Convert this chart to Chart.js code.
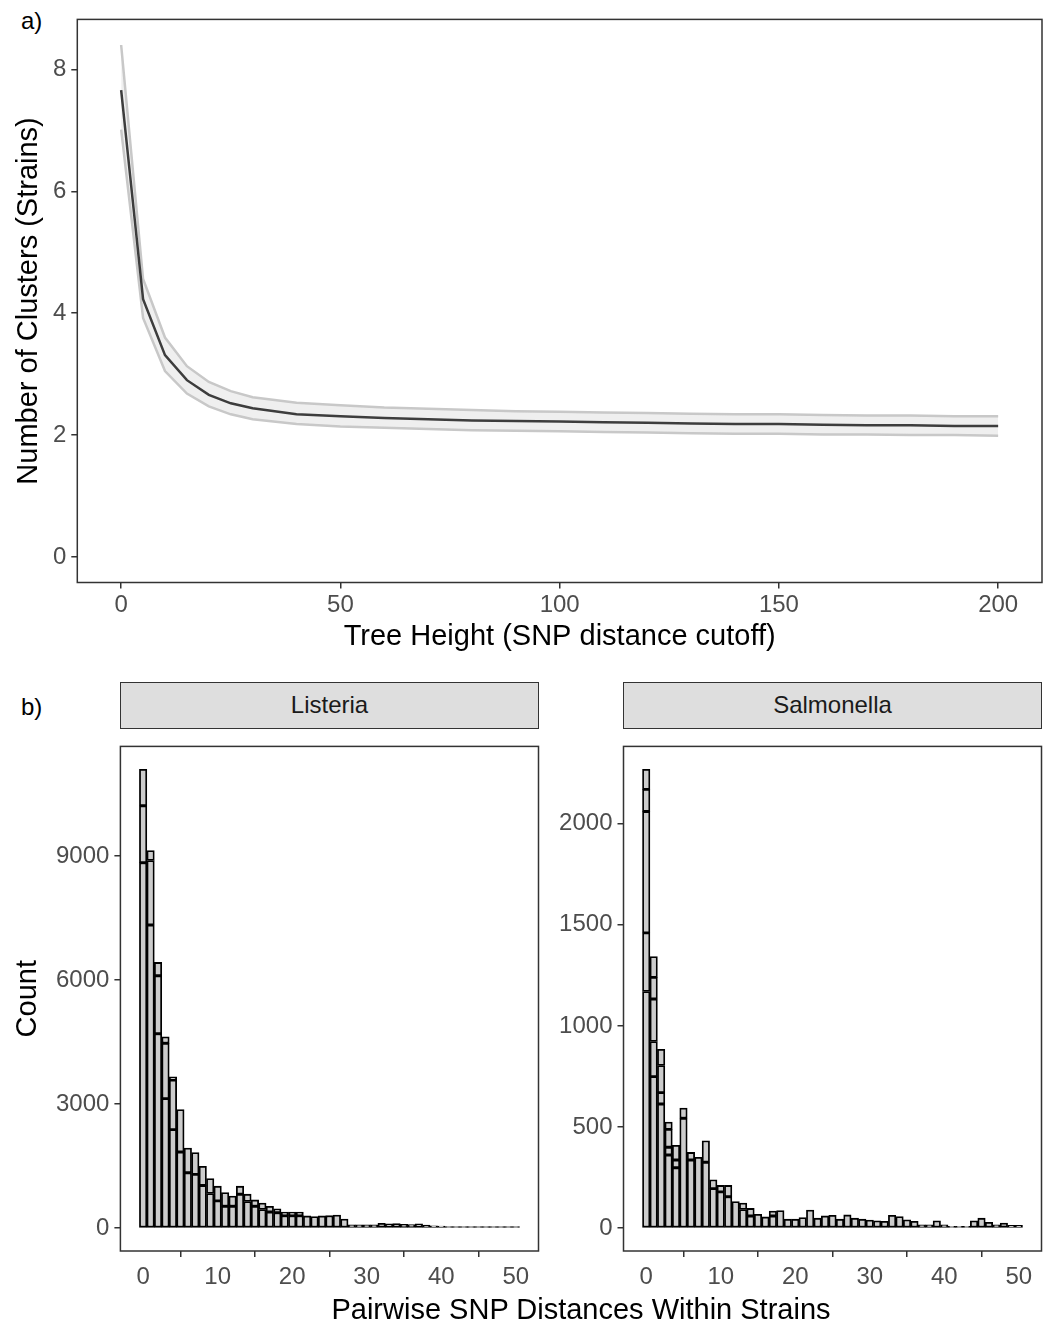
<!DOCTYPE html>
<html>
<head>
<meta charset="utf-8">
<script src="https://cdn.jsdelivr.net/npm/chart.js@4.4.1/dist/chart.umd.min.js"></script>
<style>
  body { margin: 0; background: #fff; width: 1049px; height: 1323px; position: relative; overflow: hidden;
         font-family: "Liberation Sans", Arial, sans-serif; }
  .box { position: absolute; }
  .strip { position: absolute; background: #dedede; border: 1.5px solid #333; box-sizing: border-box;
           text-align: center; font-size: 24px; color: #1a1a1a; line-height: 43px; }
  .tag { position: absolute; font-size: 24px; line-height: 24px; color: #000; }
  .xtitle { position: absolute; font-size: 29px; line-height: 34px; text-align: center; color: #000; }
</style>
</head>
<body>
<div class="tag" style="left:21px;top:9px">a)</div>
<div class="tag" style="left:21px;top:695px">b)</div>

<div class="box" style="left:0;top:0;width:1049px;height:660px"><canvas id="treeChart"></canvas></div>

<div class="strip" style="left:120px;top:682px;width:419px;height:47px">Listeria</div>
<div class="strip" style="left:623px;top:682px;width:419px;height:47px">Salmonella</div>

<div class="box" style="left:0;top:727px;width:540px;height:573px"><canvas id="listeriaChart"></canvas></div>
<div class="box" style="left:540px;top:727px;width:509px;height:573px"><canvas id="salmonellaChart"></canvas></div>

<div class="xtitle" style="left:281px;top:1292px;width:600px">Pairwise SNP Distances Within Strains</div>

<script>
// a) clusters vs tree height
const treeHeights   = [0, 5, 10, 15, 20, 25, 30, 40, 50, 60, 70, 80, 90, 100, 110, 120, 130, 140, 150, 160, 170, 180, 190, 200];
const meanClusters  = [7.66, 4.23, 3.31, 2.90, 2.66, 2.52, 2.44, 2.34, 2.31, 2.28, 2.26, 2.24, 2.23, 2.22, 2.21, 2.20, 2.19, 2.18, 2.18, 2.17, 2.16, 2.16, 2.15, 2.15];
const upperClusters = [8.40, 4.56, 3.60, 3.13, 2.87, 2.72, 2.62, 2.53, 2.49, 2.45, 2.43, 2.41, 2.39, 2.38, 2.37, 2.36, 2.35, 2.34, 2.34, 2.33, 2.32, 2.32, 2.31, 2.31];
const lowerClusters = [7.01, 3.92, 3.05, 2.68, 2.47, 2.34, 2.26, 2.18, 2.14, 2.12, 2.10, 2.08, 2.07, 2.06, 2.05, 2.04, 2.03, 2.02, 2.02, 2.01, 2.01, 2.00, 2.00, 1.99];
const treeXTicks = [0, 50, 100, 150, 200];
const treeYTicks = [0, 2, 4, 6, 8];

// b) histograms, stacked segments per bin
const distances = [0, 1, 2, 3, 4, 5, 6, 7, 8, 9, 10, 11, 12, 13, 14, 15, 16, 17, 18, 19, 20, 21, 22, 23, 24, 25,
                   26, 27, 28, 29, 30, 31, 32, 33, 34, 35, 36, 37, 38, 39, 40, 41, 42, 43, 44, 45, 46, 47, 48, 49, 50];
const listeriaLower  = [8838, 7330, 4701, 3131, 2381, 1840, 1338, 1299, 1028, 835, 657, 526, 526, 820, 642, 526, 448, 387, 371, 300, 300, 300, 294, 280, 294, 300,
                        317, 216, 77, 77, 77, 77, 116, 100, 108, 90, 85, 100, 70, 55, 50, 35, 35, 35, 35, 35, 35, 35, 35, 35, 35];
const listeriaMiddle = [1376, 1560, 1400, 1338, 1200, 1028, 595, 526, 464, 363, 356, 332, 247, 193, 178, 154, 155, 139, 93, 87, 87, 87, 0, 0, 0, 0,
                        0, 0, 0, 0, 0, 0, 0, 0, 0, 0, 0, 0, 0, 0, 0, 0, 0, 0, 0, 0, 0, 0, 0, 0, 0];
const listeriaUpper  = [882, 241, 324, 155, 76, 0, 0, 0, 0, 0, 0, 0, 0, 0, 0, 0, 0, 0, 0, 0, 0, 0, 0, 0, 0, 0,
                        0, 0, 0, 0, 0, 0, 0, 0, 0, 0, 0, 0, 0, 0, 0, 0, 0, 0, 0, 0, 0, 0, 0, 0, 0];
const salmonella1 = [1170, 749, 614, 361, 298, 543, 337, 350, 326, 195, 179, 155, 131, 92, 60, 68, 55, 60, 87, 44, 44, 52, 89, 49, 60, 63,
                     44, 65, 49, 44, 40, 36, 33, 63, 57, 41, 33, 16, 16, 36, 16, 8, 8, 8, 36, 49, 28, 16, 25, 13, 13];
const salmonella2 = [290, 174, 56, 39, 39, 51, 37, 0, 106, 44, 32, 56, 0, 32, 37, 0, 0, 24, 0, 0, 0, 0, 0, 0, 0, 0,
                     0, 0, 0, 0, 0, 0, 0, 0, 0, 0, 0, 0, 0, 0, 0, 0, 0, 0, 0, 0, 0, 0, 0, 0, 0];
const salmonella3 = [600, 210, 134, 88, 72, 0, 0, 0, 0, 0, 0, 0, 0, 0, 0, 0, 0, 0, 0, 0, 0, 0, 0, 0, 0, 0,
                     0, 0, 0, 0, 0, 0, 0, 0, 0, 0, 0, 0, 0, 0, 0, 0, 0, 0, 0, 0, 0, 0, 0, 0, 0];
const salmonella4 = [110, 107, 80, 36, 0, 0, 0, 0, 0, 0, 0, 0, 0, 0, 0, 0, 0, 0, 0, 0, 0, 0, 0, 0, 0, 0,
                     0, 0, 0, 0, 0, 0, 0, 0, 0, 0, 0, 0, 0, 0, 0, 0, 0, 0, 0, 0, 0, 0, 0, 0, 0];
const salmonella5 = [99, 103, 0, 0, 0, 0, 0, 0, 0, 0, 0, 0, 0, 0, 0, 0, 0, 0, 0, 0, 0, 0, 0, 0, 0, 0,
                     0, 0, 0, 0, 0, 0, 0, 0, 0, 0, 0, 0, 0, 0, 0, 0, 0, 0, 0, 0, 0, 0, 0, 0, 0];
const histXTicks = [0, 10, 20, 30, 40, 50];
const listeriaYTicks = [0, 3000, 6000, 9000];
const salmonellaYTicks = [0, 500, 1000, 1500, 2000];

Chart.defaults.font.family = '"Liberation Sans", Arial, sans-serif';
Chart.defaults.animation = false;

const panelBox = {
  id: 'panelBox',
  afterDraw(chart) {
    const { ctx, chartArea: a } = chart;
    ctx.save();
    ctx.strokeStyle = '#333333';
    ctx.lineWidth = 1.5;
    ctx.strokeRect(a.left, a.top, a.right - a.left, a.bottom - a.top);
    ctx.restore();
  }
};

const tickFont = { size: 24 };
const tickColor = '#4d4d4d';
const titleFont = { size: 29 };
const tickMarks = { display: true, drawOnChartArea: false, drawTicks: true, tickLength: 6, color: '#333333', lineWidth: 1.5 };
const useTicks = values => scale => { scale.ticks = values.map(v => ({ value: v })); };
const plain = v => String(v);

const points = (xs, ys) => xs.map((x, i) => ({ x: x, y: ys[i] }));

new Chart(document.getElementById('treeChart'), {
  type: 'line',
  data: {
    datasets: [
      { label: 'Mean', data: points(treeHeights, meanClusters), borderColor: '#3d3d3d', borderWidth: 2.5,
        pointRadius: 0, fill: false, tension: 0, order: 0 },
      { label: 'Upper', data: points(treeHeights, upperClusters), borderColor: '#c8c8c8', borderWidth: 2.5,
        pointRadius: 0, fill: '+1', backgroundColor: 'rgba(236,236,236,0.85)', tension: 0, order: 1 },
      { label: 'Lower', data: points(treeHeights, lowerClusters), borderColor: '#c8c8c8', borderWidth: 2.5,
        pointRadius: 0, fill: false, tension: 0, order: 2 }
    ]
  },
  options: {
    responsive: true,
    maintainAspectRatio: false,
    layout: { padding: { top: 8, right: 7, left: 0, bottom: 0 } },
    plugins: { legend: { display: false }, tooltip: { enabled: false }, filler: { drawTime: 'beforeDatasetsDraw' } },
    scales: {
      x: {
        type: 'linear', min: -10, max: 210,
        afterBuildTicks: useTicks(treeXTicks),
        afterFit: s => { s.height = 77.5; },
        grid: tickMarks, border: { display: false },
        ticks: { font: tickFont, color: tickColor, padding: 2, maxRotation: 0, callback: plain },
        title: { display: true, text: 'Tree Height (SNP distance cutoff)', font: titleFont, color: '#000', padding: { top: 0, bottom: 6 } }
      },
      y: {
        type: 'linear', min: -0.42, max: 8.82,
        afterBuildTicks: useTicks(treeYTicks),
        afterFit: s => { s.width = 77.3; },
        grid: tickMarks, border: { display: false },
        ticks: { font: tickFont, color: tickColor, padding: 5, callback: plain },
        title: { display: true, text: 'Number of Clusters (Strains)', font: titleFont, color: '#000', padding: { top: 12, bottom: 0 } }
      }
    }
  },
  plugins: [panelBox]
});

function histChart(id, layers, yTicks, yWidth, padRight, yTitle) {
  const totals = distances.map((d, i) => layers.reduce((s, l) => s + l[i], 0));
  const top = Math.max(...totals);
  return new Chart(document.getElementById(id), {
    type: 'bar',
    data: {
      datasets: layers.map((l, k) => ({
        label: 'group ' + (k + 1),
        data: points(distances, l),
        backgroundColor: '#cccccc',
        borderColor: '#000000',
        borderWidth: 1.8,
        borderSkipped: false,
        barPercentage: 1,
        categoryPercentage: 1
      }))
    },
    options: {
      responsive: true,
      maintainAspectRatio: false,
      layout: { padding: { top: 1, right: padRight, left: 0, bottom: 0 } },
      plugins: { legend: { display: false }, tooltip: { enabled: false } },
      scales: {
        x: {
          type: 'linear', min: -3.05, max: 53.05, offset: false, stacked: true,
          afterBuildTicks: useTicks(histXTicks),
          afterFit: s => { s.height = 49; },
          grid: tickMarks, border: { display: false },
          ticks: { font: tickFont, color: tickColor, padding: 6, maxRotation: 0, callback: plain }
        },
        y: {
          type: 'linear', min: -0.05 * top, max: 1.05 * top, stacked: true,
          afterBuildTicks: useTicks(yTicks),
          afterFit: s => { s.width = yWidth; },
          grid: tickMarks, border: { display: false },
          ticks: { font: tickFont, color: tickColor, padding: 5, callback: plain },
          title: { display: !!yTitle, text: yTitle || '', font: titleFont, color: '#000', padding: { top: 11, bottom: 0 } }
        }
      }
    },
    plugins: [panelBox]
  });
}

histChart('listeriaChart', [listeriaLower, listeriaMiddle, listeriaUpper], listeriaYTicks, 120.4, 1.5, 'Count');
histChart('salmonellaChart', [salmonella1, salmonella2, salmonella3, salmonella4, salmonella5], salmonellaYTicks, 83.5, 7.5, '');
</script>
</body>
</html>
